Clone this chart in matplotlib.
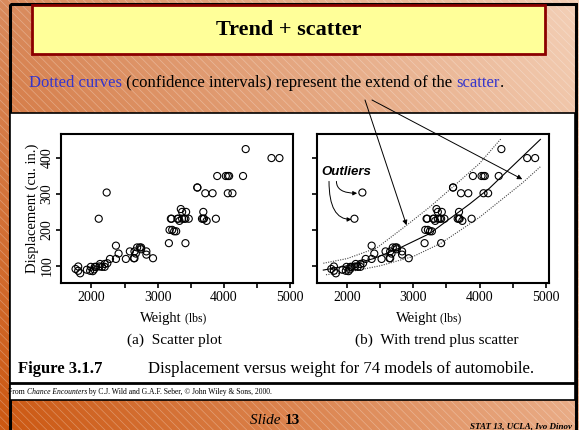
import numpy as np
import matplotlib.pyplot as plt
from matplotlib.patches import Rectangle

plt.rcParams['font.family'] = ['Liberation Serif', 'DejaVu Serif']
plt.rcParams['hatch.linewidth'] = 0.5

# auto data: weight (lbs) and displacement (cu. in.) for 74 cars
weight = [2930, 3350, 2640, 3250, 4080, 3670, 2230, 3280, 3880, 3400,
          4330, 3900, 4290, 2110, 3690, 3180, 3220, 2750, 3430, 2120,
          3600, 3600, 3740, 1800, 2650, 4840, 4720, 3830, 2580, 4060,
          3720, 3370, 4130, 2830, 4060, 3310, 3300, 3690, 3370, 2730,
          4030, 2370, 1800, 2200, 2520, 3330, 3700, 3470, 3210, 3200,
          3420, 2690, 2830, 2070, 2650, 2370, 2020, 2280, 2750, 2130,
          2240, 1760, 1980, 3420, 1830, 2050, 2410, 2200, 2670, 2160,
          2040, 1930, 1990, 3170]
displacement = [121, 258, 121, 196, 350, 231, 304, 196, 231, 231,
                425, 350, 350, 231, 250, 200, 200, 151, 250, 98,
                318, 318, 225, 98, 140, 400, 400, 302, 140, 302,
                302, 250, 302, 140, 350, 231, 231, 231, 231, 151,
                350, 156, 86, 105, 119, 225, 231, 231, 231, 231,
                231, 151, 131, 97, 121, 119, 85, 119, 146, 105,
                107, 91, 86, 163, 79, 97, 134, 97, 134, 97,
                90, 89, 97, 163]

# curves
trend_w = [1640, 2000, 2400, 2800, 3250, 3850, 4150, 4920]
trend_d = [88, 100, 120, 150, 190, 272, 316, 452]
upper_w = [1640, 2000, 2450, 2900, 3250, 3600, 4000, 4330]
upper_d = [107, 120, 150, 213, 264, 320, 385, 455]
lower_w = [1680, 2000, 2500, 3000, 3420, 4000, 4650, 4920]
lower_d = [75, 82, 100, 126, 163, 235, 331, 376]

W, H = 579, 430
fig = plt.figure(figsize=(W / 100, H / 100), dpi=100)

# slide background in pixel coordinates
bg = fig.add_axes([0, 0, 1, 1], zorder=0)
bg.set_xlim(0, W)
bg.set_ylim(H, 0)
bg.axis('off')

tl, tr = np.array([217, 138, 92]), np.array([243, 207, 182])
bl, br = np.array([204, 88, 18]), np.array([233, 171, 133])
u = np.linspace(0, 1, 60)
top = tl[None, :] * (1 - u[:, None]) + tr[None, :] * u[:, None]
bot = bl[None, :] * (1 - u[:, None]) + br[None, :] * u[:, None]
v = np.linspace(0, 1, 60)[:, None, None]
grad = (top[None] * (1 - v) + bot[None] * v) / 255
bg.imshow(grad, extent=[0, W, H, 0], aspect='auto', interpolation='bilinear')
bg.add_patch(Rectangle((0, 0), W, H, fill=False, hatch='\\\\\\\\',
                       edgecolor=(1, 1, 1, 0.3), lw=0))

# frame, title box, white panels
bg.add_patch(Rectangle((9.5, 4), 566, 440, fill=False, edgecolor='k', lw=2.2))
bg.add_patch(Rectangle((32, 5), 513, 49, facecolor='#ffff99',
                       edgecolor='#8b0000', lw=2))
bg.text(289, 30, 'Trend + scatter', ha='center', va='center',
        fontsize=16, fontweight='bold')
bg.add_patch(Rectangle((10, 113), 565, 287, facecolor='white',
                       edgecolor='k', lw=1.2))
bg.plot([10, 575], [383, 383], color='k', lw=2)

blue = '#3535cc'
t = bg.text(29, 91, 'Dotted curves', color=blue, fontsize=12, va='bottom')
for s, c in [(' (confidence intervals) represent the extend of the ', 'k'),
             ('scatter', blue), ('.', 'k')]:
    t = bg.annotate(s, xy=(1, 0), xycoords=t, color=c, fontsize=12,
                    va='bottom', ha='left')

bg.text(18, 369, 'Figure 3.1.7', fontsize=12, fontweight='bold', va='center')
bg.text(148, 369, 'Displacement versus weight for 74 models of automobile.',
        fontsize=12, va='center')

t = bg.text(8, 396, 'From ', fontsize=5.5, va='bottom')
for s, st in [('Chance Encounters', 'italic'),
              (' by C.J. Wild and G.A.F. Seber, \u00a9 John Wiley & Sons, 2000.', 'normal')]:
    t = bg.annotate(s, xy=(1, 0), xycoords=t, fontsize=5.5, style=st,
                    va='bottom', ha='left')

t = bg.text(250, 427, 'Slide ', fontsize=11, style='italic', va='bottom')
bg.annotate('13', xy=(1, 0), xycoords=t, fontsize=11, fontweight='bold',
            va='bottom', ha='left')
bg.text(470, 430, 'STAT 13, UCLA, Ivo Dinov', fontsize=6.5,
        style='italic', fontweight='bold', va='bottom')

bg.text(174, 340, '(a)  Scatter plot', ha='center', va='center', fontsize=11)
bg.text(437, 340, '(b)  With trend plus scatter', ha='center', va='center',
        fontsize=11)

# the two panels
ax1 = fig.add_axes([61 / W, 1 - 283 / H, 232 / W, 149 / H], zorder=2)
ax2 = fig.add_axes([316.7 / W, 1 - 283 / H, 232 / W, 149 / H], zorder=2)

for ax in (ax1, ax2):
    ax.scatter(weight, displacement, s=26, facecolors='none',
               edgecolors='k', linewidths=0.8, zorder=3)
    ax.set_xlim(1540, 5045)
    ax.set_ylim(52, 467)
    ax.set_xticks([2000, 3000, 4000, 5000])
    ax.set_xticks([2500, 3500, 4500], minor=True)
    ax.set_yticks([100, 200, 300, 400])
    ax.tick_params(which='both', length=3.5, width=1.2, labelsize=10, pad=2)
    for sp in ax.spines.values():
        sp.set_linewidth(1.5)
    t = ax.text(0.52, -0.235, 'Weight', transform=ax.transAxes,
                ha='right', va='center', fontsize=10.5)
    ax.annotate(' (lbs)', xy=(1, 0), xycoords=t, fontsize=8.5,
                va='bottom', ha='left')

ax1.set_ylabel('Displacement (cu. in.)', fontsize=10.5, labelpad=1)
plt.setp(ax1.get_yticklabels(), rotation=90, va='center')
ax2.set_yticklabels([])

ax2.plot(trend_w, trend_d, color='k', lw=0.8, zorder=2)
ax2.plot(upper_w, upper_d, color='#444444', lw=0.8, ls=(0, (1, 1.2)), zorder=2)
ax2.plot(lower_w, lower_d, color='#444444', lw=0.8, ls=(0, (1, 1.2)), zorder=2)

ax2.text(1990, 362, 'Outliers', ha='center', va='center', fontsize=9.5,
         family='Liberation Sans', fontweight='bold', style='italic')
ax2.annotate('', xy=(2151, 302), xytext=(1838, 335),
             arrowprops=dict(arrowstyle='-|>', lw=0.7, color='k',
                             mutation_scale=6, shrinkA=0, shrinkB=0,
                             connectionstyle='angle3,angleA=-90,angleB=0'))
ax2.annotate('', xy=(2065, 229), xytext=(1726, 335),
             arrowprops=dict(arrowstyle='-|>', lw=0.7, color='k',
                             mutation_scale=6, shrinkA=0, shrinkB=0,
                             connectionstyle='angle3,angleA=-90,angleB=0'))

# arrows from the sentence to the dotted curves
for start, tip in [((365, 100), (2897, 213)), ((372, 100), (4646, 341))]:
    ax2.annotate('', xy=tip, xytext=start, textcoords=bg.transData,
                 annotation_clip=False,
                 arrowprops=dict(arrowstyle='-|>', lw=0.7, color='k',
                                 mutation_scale=7, shrinkA=0, shrinkB=0))

fig.savefig('out.png', dpi=100)
